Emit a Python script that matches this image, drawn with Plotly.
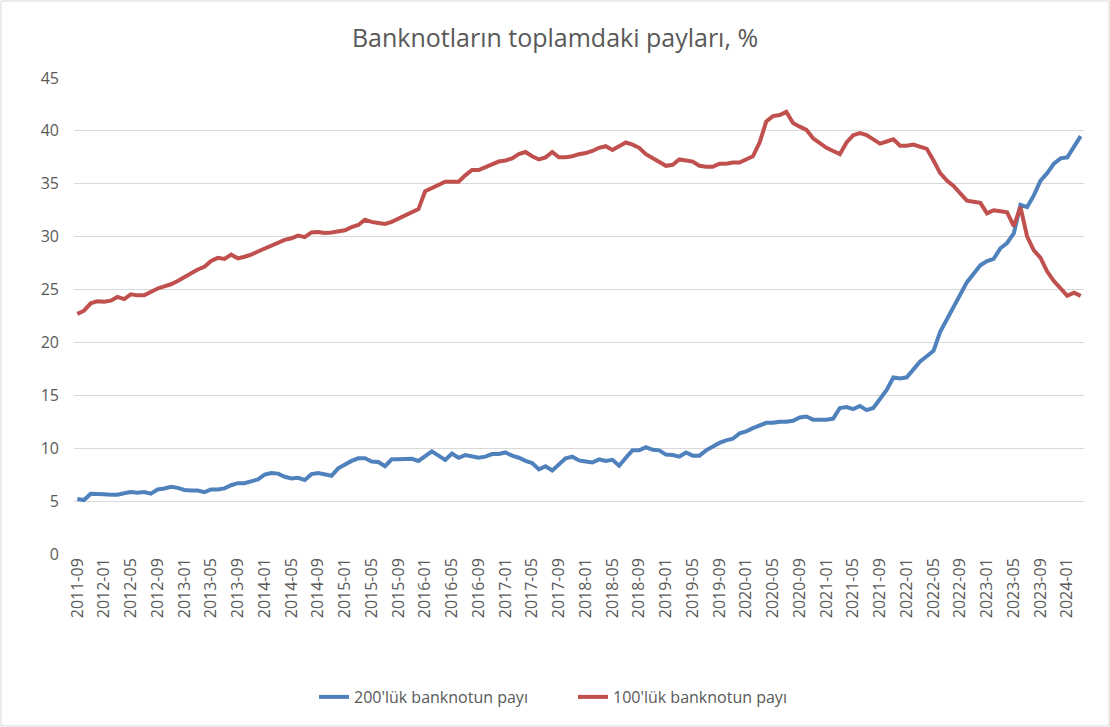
import plotly.graph_objects as go
import pandas as pd

# Monthly categories 2011-09 .. 2024-03
months = [d.strftime("%Y-%m") for d in pd.date_range("2011-09-01", "2024-03-01", freq="MS")]

share_200 = [
    5.2, 5.1, 5.7, 5.7, 5.65, 5.6, 5.6, 5.75, 5.85, 5.8,
    5.85, 5.7, 6.1, 6.2, 6.35, 6.25, 6.05, 6.0, 6.0, 5.85,
    6.1, 6.1, 6.2, 6.5, 6.7, 6.7, 6.9, 7.05, 7.5, 7.65,
    7.6, 7.3, 7.15, 7.2, 7.0, 7.55, 7.65, 7.5, 7.4, 8.1,
    8.5, 8.8, 9.05, 9.05, 8.75, 8.7, 8.3, 8.95, 8.95, 8.95,
    9.0, 8.8, 9.3, 9.7, 9.3, 8.9, 9.5, 9.1, 9.35, 9.25,
    9.1, 9.2, 9.45, 9.45, 9.6, 9.3, 9.1, 8.8, 8.6, 8.0,
    8.3, 7.9, 8.5, 9.05, 9.2, 8.85, 8.75, 8.65, 8.95, 8.8,
    8.9, 8.35, 9.1, 9.8, 9.8, 10.1, 9.85, 9.8, 9.4, 9.35,
    9.2, 9.6, 9.3, 9.3, 9.8, 10.2, 10.5, 10.75, 10.9, 11.4,
    11.6, 11.9, 12.2, 12.4, 12.4, 12.5, 12.5, 12.6, 12.9, 13.0,
    12.7, 12.7, 12.7, 12.8, 13.8, 13.9, 13.7, 14.0, 13.6, 13.8,
    14.7, 15.5, 16.7, 16.6, 16.7, 17.5, 18.2, 18.7, 19.2, 21.0,
    22.2, 23.4, 24.6, 25.7, 26.5, 27.3, 27.7, 27.9, 28.9, 29.4,
    30.3, 33.0, 32.8, 33.9, 35.3, 36.0, 36.9, 37.4, 37.5, 38.5,
    39.5,
]

share_100 = [
    22.7, 23.0, 23.7, 23.9, 23.85, 23.95, 24.3, 24.1, 24.55, 24.45,
    24.45, 24.8, 25.1, 25.3, 25.5, 25.8, 26.2, 26.6, 26.9, 27.15,
    27.7, 28.0, 27.9, 28.3, 27.95, 28.1, 28.3, 28.6, 28.9, 29.15,
    29.5, 29.7, 29.85, 30.1, 29.95, 30.4, 30.45, 30.35, 30.4, 30.5,
    30.6, 30.9, 31.1, 31.6, 31.4, 31.3, 31.2, 31.4, 31.7, 32.0,
    32.2, 32.6, 34.3, 34.6, 34.9, 35.2, 35.2, 35.2, 35.8, 36.3,
    36.3, 36.6, 36.9, 37.1, 37.2, 37.4, 37.8, 38.0, 37.6, 37.3,
    37.5, 38.0, 37.5, 37.5, 37.6, 37.8, 37.9, 38.1, 38.4, 38.55,
    38.2, 38.6, 38.9, 38.7, 38.4, 37.8, 37.4, 37.0, 36.7, 36.8,
    37.3, 37.2, 37.1, 36.7, 36.6, 36.6, 36.9, 36.9, 37.0, 37.0,
    37.3, 37.6, 38.9, 40.9, 41.4, 41.5, 41.8, 40.75, 40.4, 40.1,
    39.3, 38.8, 38.4, 38.1, 37.8, 38.9, 39.6, 39.8, 39.6, 39.2,
    38.8, 39.0, 39.2, 38.6, 38.6, 38.7, 38.5, 38.3, 37.2, 36.0,
    35.3, 34.8, 34.1, 33.4, 33.3, 33.2, 32.2, 32.5, 32.4, 32.3,
    31.0, 32.8, 30.0, 28.7, 28.0, 26.7, 25.8, 25.1, 24.4, 24.7,
    24.4,
]

series_names = ["200'lük banknotun payı", "100'lük banknotun payı"]
title_text = "Banknotların toplamdaki payları, %"
y_ticks = [0, 5, 10, 15, 20, 25, 30, 35, 40, 45]
x_ticks = months[::4]

W, H = 1110, 727
ML, MR, MT, MB = 74, 26, 78, 173
pw, ph = W - ML - MR, H - MT - MB

FONT = "Open Sans"
TXT = "#595959"

fig = go.Figure()
fig.add_trace(go.Scatter(x=months, y=share_200, mode="lines", name=series_names[0],
                         line=dict(color="#4F81BD", width=4)))
fig.add_trace(go.Scatter(x=months, y=share_100, mode="lines", name=series_names[1],
                         line=dict(color="#C0504D", width=4)))

fig.update_layout(
    width=W, height=H,
    margin=dict(l=ML, r=MR, t=MT, b=MB),
    paper_bgcolor="white", plot_bgcolor="white",
    title=dict(text=title_text, x=0.5, xanchor="center", y=1 - 38 / H, yanchor="middle",
               font=dict(family=FONT, size=25, color=TXT)),
    xaxis=dict(type="category", tickvals=x_ticks, ticktext=x_ticks, tickangle=-90,
               range=[-0.5, len(months) - 0.5], showgrid=False, ticks="",
               showline=False, zeroline=False,
               tickfont=dict(family=FONT, size=16, color=TXT)),
    yaxis=dict(range=[0, 45], tickvals=y_ticks, showgrid=True, gridcolor="#D9D9D9",
               gridwidth=1, zeroline=False, showline=False, ticks="",
               ticklabelstandoff=14,
               tickfont=dict(family=FONT, size=16, color=TXT)),
    legend=dict(orientation="h", x=(314 - ML) / pw, xanchor="left", y=-(697 - 554) / ph,
                yanchor="middle", entrywidth=214,
                font=dict(family=FONT, size=16, color=TXT)),
    showlegend=True,
)

# Chart-area border
fig.add_shape(type="rect", xref="paper", yref="paper",
              x0=(-ML + 1) / pw, x1=1 + (MR - 1) / pw,
              y0=-(MB - 1) / ph, y1=1 + (MT - 1) / ph,
              line=dict(color="#D9D9D9", width=1), fillcolor="rgba(0,0,0,0)", layer="below")

fig.write_html("out.html", config={"displayModeBar": False},
               post_script="document.body.style.margin='0';")
